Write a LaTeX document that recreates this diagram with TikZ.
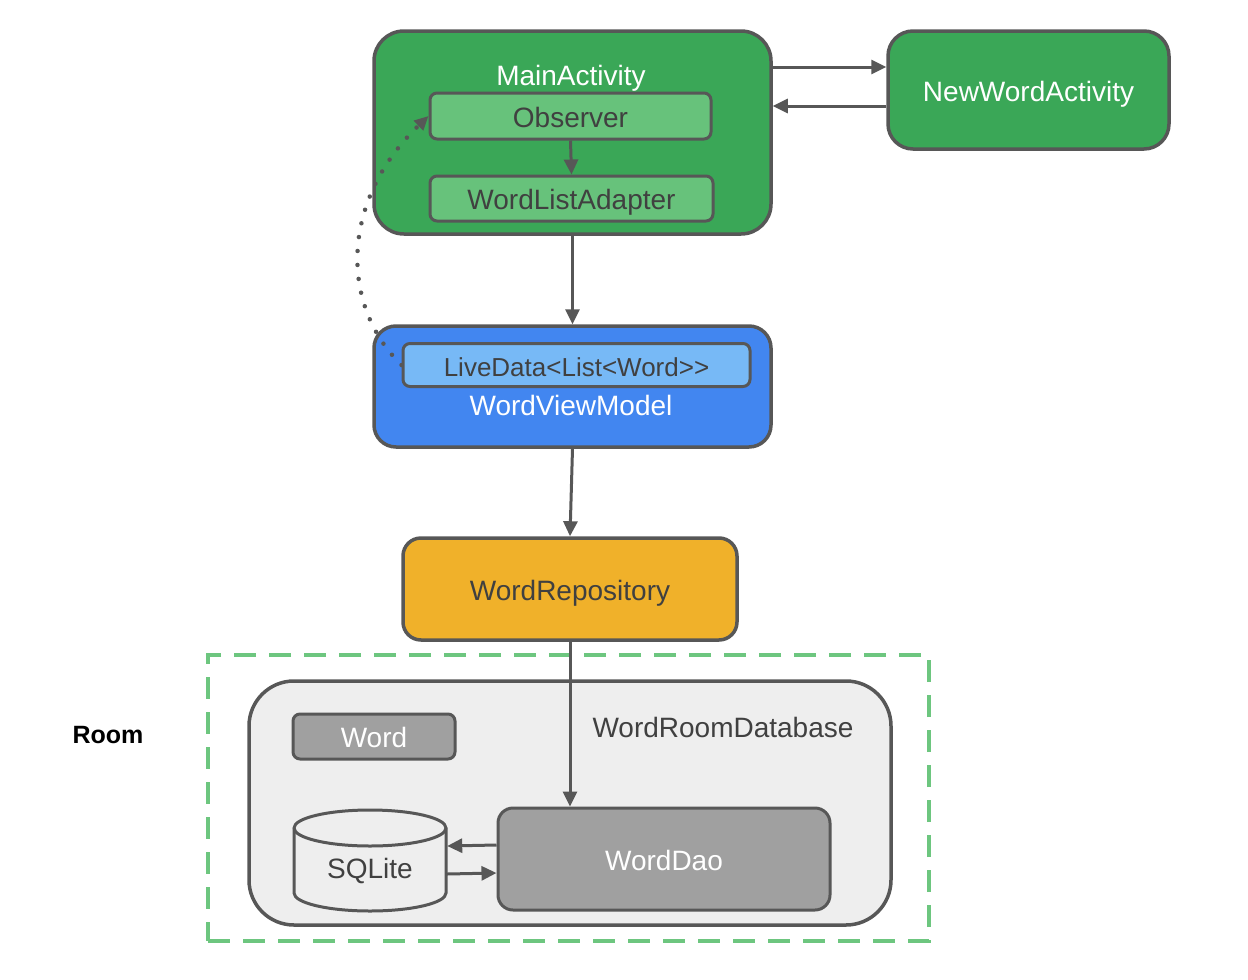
\documentclass[tikz,border=0pt]{standalone}
\usepackage{fontspec}
\setmainfont{Liberation Sans}
\usetikzlibrary{arrows.meta}
\definecolor{edge}{HTML}{575757}
\definecolor{dtext}{HTML}{404040}
\definecolor{gmain}{HTML}{3AA757}
\definecolor{glight}{HTML}{67C27B}
\definecolor{gblue}{HTML}{4286F0}
\definecolor{lblue}{HTML}{77B9F6}
\definecolor{gyellow}{HTML}{F0B12A}
\definecolor{ggray}{HTML}{A0A0A0}
\definecolor{dbg}{HTML}{EEEEEE}
\definecolor{dgreen}{HTML}{6DC67F}
\begin{document}
\begin{tikzpicture}[x=1pt,y=-1pt,
  box/.style={draw=edge, line width=3.5pt, inner sep=0pt},
  inbox/.style={draw=edge, line width=3pt, rounded corners=7pt, inner sep=0pt},
  txt/.style={font=\fontsize{28}{32}\selectfont, text=dtext, inner sep=0pt,
    text height=26pt, text depth=4pt},
  conn/.style={draw=edge, line width=3pt, -{Triangle[length=15pt,width=14pt]}},
]
\useasboundingbox (0,0) rectangle (1248,980);

% activities
\node[box, fill=gmain, rounded corners=30pt, minimum width=397pt, minimum height=203pt] (ma) at (572.5,132.5) {};
\node[txt, text=white] (matext) at (571,74) {MainActivity};
\node[inbox, fill=glight, minimum width=281pt, minimum height=46pt, txt] (obs) at (570.5,116) {Observer};
\node[inbox, fill=glight, minimum width=283pt, minimum height=45pt, txt] (wla) at (571.5,198.5) {WordListAdapter};
\node[box, fill=gmain, rounded corners=25pt, minimum width=281pt, minimum height=118pt, txt, text=white] (nwa) at (1028.5,90) {NewWordActivity};

% view model
\node[box, fill=gblue, rounded corners=22pt, minimum width=397pt, minimum height=121pt] (wvm) at (572.5,386.5) {};
\node[inbox, fill=lblue, minimum width=347pt, minimum height=43pt, txt, font=\fontsize{26}{30}\selectfont] (ld) at (576.5,365) {LiveData<List<Word>{}>};
\node[txt, text=white] (wvmtext) at (571,404) {WordViewModel};

% repository
\node[box, fill=gyellow, rounded corners=18pt, minimum width=334pt, minimum height=102pt, txt] (repo) at (570,589) {WordRepository};

% Room
\node[draw=dgreen, line width=4pt, dash pattern=on 22pt off 13pt, minimum width=721pt, minimum height=286pt, inner sep=0pt] (room) at (568.5,798) {};
\node[font=\bfseries\fontsize{25}{30}\selectfont, inner sep=0pt] (roomlbl) at (108,735) {Room};
\node[box, fill=dbg, rounded corners=45pt, minimum width=642pt, minimum height=244pt] (db) at (570,803) {};
\node[txt] (dbtext) at (723,726) {WordRoomDatabase};
\node[inbox, fill=ggray, minimum width=162pt, minimum height=45pt, txt, text=white] (word) at (374,736.5) {Word};
\node[box, line width=3pt, fill=ggray, rounded corners=15pt, minimum width=332pt, minimum height=102pt, txt, text=white] (dao) at (664,859) {WordDao};

% SQLite cylinder
\draw[edge, line width=3pt, fill=dbg] (294,828) -- (294,893)
  arc[start angle=180, end angle=0, x radius=76, y radius=18] -- (446,828)
  arc[start angle=0, end angle=-180, x radius=76, y radius=18] -- cycle;
\draw[edge, line width=3pt] (294,828) arc[start angle=180, end angle=0, x radius=76, y radius=18];
\node[minimum width=154pt, minimum height=104pt, inner sep=0pt] (sqlite) at (370,860) {};
\node[txt] (sqlitetext) at (370,867) {SQLite};

% connectors
\draw[conn] (obs.south) -- (wla.north);
\draw[conn] ([yshift=65.5pt]ma.east) -- ([yshift=65.5pt]ma.east -| nwa.west);
\draw[conn] ([yshift=-16pt]nwa.west) -- ([yshift=-16pt]nwa.west -| ma.east);
\draw[conn] (ma.south) -- (wvm.north);
\draw[conn] (wvm.south) -- (repo.north);
\draw[conn] (repo.south) -- (repo.south |- dao.north);
\draw[conn] ([yshift=14pt]dao.west) -- ([yshift=14pt]sqlite.east);
\draw[conn] ([yshift=-14pt]sqlite.east) -- ([yshift=-14pt]dao.west);
\draw[edge, line width=4.5pt, dash pattern=on 0pt off 14pt, line cap=round,
  -{Triangle[length=14pt,width=13pt]}]
  (ld.west) .. controls (340,305) and (340,201) .. (obs.west);
\end{tikzpicture}
\end{document}
